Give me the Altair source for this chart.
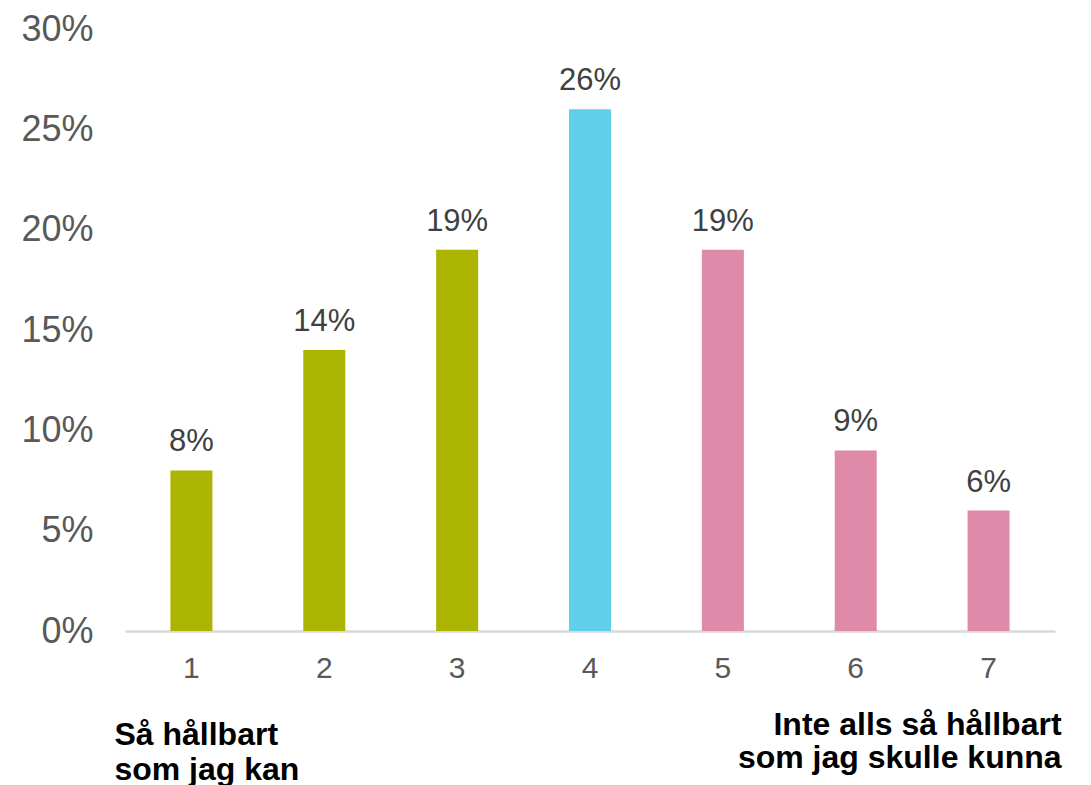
import altair as alt
import pandas as pd

categories = ["1", "2", "3", "4", "5", "6", "7"]
values = [0.08, 0.14, 0.19, 0.26, 0.19, 0.09, 0.06]
labels = ["8%", "14%", "19%", "26%", "19%", "9%", "6%"]
groups = ["pos", "pos", "pos", "mid", "neg", "neg", "neg"]
y_ticks = [0, 0.05, 0.10, 0.15, 0.20, 0.25, 0.30]

left_lines = ["Så hållbart", "som jag kan"]
right_lines = ["Inte alls så hållbart", "som jag skulle kunna"]

df = pd.DataFrame({"cat": categories, "val": values, "label": labels, "grp": groups})

FONT = "Liberation Sans"
W, H = 930, 602

x_enc = alt.X("cat:N", sort=categories,
              scale=alt.Scale(paddingInner=0, paddingOuter=0),
              axis=alt.Axis(title=None, labelAngle=0, labelFontSize=30, labelColor="#595959",
                            labelFont=FONT, labelPadding=22, ticks=False,
                            domainColor="#D9D9D9", domainWidth=2.5))
y_scale = alt.Scale(domain=[0, 0.30], nice=False)

bars = alt.Chart(df).mark_bar(size=42).encode(
    x=x_enc,
    y=alt.Y("val:Q", scale=y_scale,
            axis=alt.Axis(title=None, values=y_ticks, format=".0%", grid=False, domain=False,
                          ticks=False, labelFontSize=36, labelColor="#595959", labelFont=FONT,
                          labelPadding=32)),
    color=alt.Color("grp:N", scale=alt.Scale(domain=["pos", "mid", "neg"],
                                             range=["#ABB400", "#5FCFEA", "#DE8AA8"]),
                    legend=None),
)

text = alt.Chart(df).mark_text(fontSize=31, color="#404040", font=FONT, baseline="alphabetic",
                               dy=-19).encode(
    x=alt.X("cat:N", sort=categories),
    y=alt.Y("val:Q", scale=y_scale),
    text="label:N",
)

ann_df = pd.DataFrame({"cat": [categories[0], categories[-1]],
                       "l": [left_lines, right_lines]})

left = alt.Chart(ann_df.iloc[[0]]).mark_text(
    fontSize=32, fontWeight="bold", color="#000000", font=FONT, align="left",
    baseline="alphabetic", dx=-77, lineHeight=35).encode(
    x=alt.X("cat:N", sort=categories),
    y=alt.value(716),
    text="l",
)

right = alt.Chart(ann_df.iloc[[1]]).mark_text(
    fontSize=32, fontWeight="bold", color="#000000", font=FONT, align="right",
    baseline="alphabetic", dx=73, lineHeight=33).encode(
    x=alt.X("cat:N", sort=categories),
    y=alt.value(706),
    text="l",
)

chart = alt.layer(bars, text, left, right).properties(
    width=W, height=H,
    autosize=alt.AutoSizeParams(type="none"),
    padding={"left": 117, "top": 21, "right": 28, "bottom": 170},
).configure(font=FONT).configure_view(strokeWidth=0, stroke="transparent")

chart.save("out.html", embed_options={"renderer": "svg", "actions": False})

with open("out.html", "r", encoding="utf-8") as f:
    html = f.read()
html = html.replace("<head>", "<head><style>html,body{overflow:hidden;}</style>", 1)
with open("out.html", "w", encoding="utf-8") as f:
    f.write(html)
